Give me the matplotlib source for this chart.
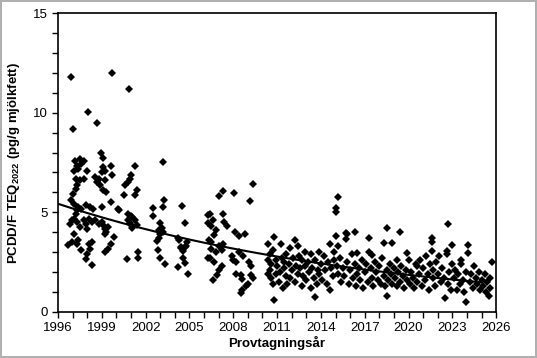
import matplotlib
matplotlib.use("Agg")
import matplotlib.pyplot as plt
import numpy as np
from matplotlib.ticker import MultipleLocator

plt.rcParams['font.family'] = ['Liberation Sans', 'DejaVu Sans']
plt.rcParams['mathtext.fontset'] = 'custom'
plt.rcParams['mathtext.it'] = 'Liberation Sans:italic:bold'
plt.rcParams['mathtext.rm'] = 'Liberation Sans:bold'

# 1996-2000
yr_a = [1996.87, 1997.05, 1998.03, 1998.7, 1999.7,
        1998.97, 1999.06, 1997.19, 1997.5, 1997.8, 1997.3, 1997.6, 1997.07, 1997.4, 1997.99,
        1999.1, 1999.6, 1999.0, 1999.2, 1997.2, 1997.5, 1997.76, 1998.56, 1998.8, 1999.7,
        1997.3, 1998.7, 1998.9, 1999.2, 1997.2, 1999.1, 1999.3, 1999.6, 1997.4, 1997.3,
        1997.2, 1997.6, 1997.07, 1997.3, 1997.9, 1998.2, 1998.4, 1999.0, 1996.8, 1996.96,
        1997.8, 1997.9, 1998.1, 1998.3, 1998.5, 1998.8, 1999.0, 1999.1, 1999.2, 1999.4,
        1998.0, 1997.5, 1997.07, 1999.8, 1999.2, 1999.3, 1996.7, 1996.96, 1997.4, 1997.3,
        1998.1, 1998.3, 1997.6, 1997.99, 1997.9, 1998.2, 1999.2, 1999.4, 1999.6, 1998.3,
        1996.9, 1997.0, 1997.1]
teq_a = [11.8, 9.2, 10.05, 9.5, 12.0,
         7.98, 7.72, 7.6, 7.67, 7.6, 7.35, 7.43, 7.1, 7.18, 7.1,
         7.27, 7.32, 7.0, 7.1, 6.68, 6.6, 6.68, 6.77, 6.68, 6.85,
         6.35, 6.5, 6.35, 6.6, 6.18, 6.1, 6.0, 5.5, 5.27, 5.1,
         4.93, 5.18, 4.68, 4.52, 5.35, 5.27, 5.18, 5.27, 4.43, 4.6,
         4.6, 4.43, 4.68, 4.52, 4.6, 4.43, 4.52, 4.35, 4.18, 4.27,
         4.18, 4.27, 3.93, 3.77, 3.93, 4.02, 3.35, 3.5, 3.6, 3.43,
         3.43, 3.5, 3.1, 2.93, 2.68, 3.18, 3.0, 3.18, 3.43, 2.35,
         5.6, 5.9, 5.4]

# 2000-2001
yr_c = [2000.86, 2000.5, 2000.6, 2000.96, 2000.1, 2000.15, 2000.8, 2000.8, 2000.7,
        2001.0, 2001.3, 2001.4, 2001.3, 2000.8, 2001.0, 2001.1, 2001.0, 2001.1, 2001.3,
        2001.4, 2001.5, 2001.5, 2000.9]
teq_c = [11.2, 5.85, 6.35, 6.68, 5.18, 5.1, 4.93, 4.6, 2.68,
         6.85, 7.35, 6.1, 5.85, 6.5, 4.8, 4.75, 4.35, 4.2, 4.6,
         4.35, 2.7, 3.0, 4.45]

# 2002-2003
yr_d = [2003.2, 2003.25, 2003.2, 2002.5, 2002.5, 2003.0, 2003.1, 2003.0, 2002.9,
        2002.75, 2002.85, 2003.0, 2003.3, 2003.2, 2002.9]
teq_d = [7.55, 5.6, 5.25, 5.2, 4.8, 4.45, 4.2, 3.9, 3.7,
         3.55, 3.1, 2.7, 2.4, 4.0, 4.1]

# 2004
yr_e = [2004.5, 2004.7, 2004.25, 2004.3, 2004.4, 2004.45, 2004.55, 2004.7, 2004.75,
        2004.55, 2004.7, 2004.9, 2004.2, 2004.8]
teq_e = [5.3, 4.45, 3.7, 3.6, 3.25, 3.2, 3.05, 3.25, 3.3,
         2.7, 2.45, 1.9, 2.25, 3.5]

# 2006-2009
yr_f = [2009.33, 2007.3, 2007.0, 2008.05, 2009.15,
        2006.4, 2006.6, 2006.5, 2006.8, 2006.65, 2007.3, 2007.35, 2007.6,
        2008.1, 2008.4, 2008.8, 2006.5, 2006.45, 2006.8, 2007.0, 2007.2, 2007.3,
        2006.4, 2006.7, 2007.9, 2008.0, 2008.2, 2008.4, 2008.7, 2009.1, 2009.2,
        2007.0, 2007.2, 2006.9, 2006.6, 2008.2, 2008.6, 2008.5, 2009.2, 2009.35,
        2008.5, 2008.6, 2008.9, 2009.0, 2006.3, 2006.3, 2006.35, 2006.3]
teq_f = [6.4, 6.05, 5.8, 5.95, 5.55,
         4.9, 4.6, 4.3, 4.1, 3.85, 4.9, 4.5, 4.3,
         4.0, 3.8, 3.9, 3.5, 3.15, 3.0, 3.3, 3.1, 3.4,
         2.7, 2.5, 2.8, 2.6, 2.5, 3.0, 2.8, 2.5, 2.3,
         2.1, 2.3, 1.85, 1.6, 1.9, 1.65, 1.85, 1.85, 1.7,
         0.95, 1.1, 1.3, 1.4, 4.85, 4.45, 3.6, 2.7]

# 2010-2017
yr_g = [2010.4, 2010.5, 2010.6, 2010.5, 2010.6, 2010.7, 2010.8, 2010.8, 2010.9, 2010.9, 2010.4, 2010.35, 2010.7,
        2011.0, 2011.1, 2011.2, 2011.3, 2011.35, 2011.4, 2011.5, 2011.6, 2011.6, 2011.7, 2011.8, 2011.9, 2011.9, 2011.5,
        2012.0, 2012.1, 2012.2, 2012.2, 2012.3, 2012.4, 2012.4, 2012.5, 2012.6, 2012.7, 2012.7, 2012.8, 2012.9, 2012.9,
        2013.0, 2013.1, 2013.2, 2013.3, 2013.3, 2013.4, 2013.5, 2013.6, 2013.6, 2013.7, 2013.8, 2013.9, 2013.9,
        2014.0, 2014.1, 2014.2, 2014.3, 2014.4, 2014.5, 2014.6, 2014.6, 2014.7, 2014.8, 2014.9, 2014.9, 2015.0, 2015.0,
        2015.0, 2015.2, 2015.2,
        2015.1, 2015.2, 2015.3, 2015.4, 2015.5, 2015.6, 2015.7, 2015.7, 2015.8, 2015.8, 2015.9, 2016.0, 2016.1, 2016.2,
        2016.3, 2016.3,
        2016.4, 2016.5, 2016.5, 2016.6, 2016.7, 2016.8, 2016.9, 2017.0, 2017.1, 2017.2, 2017.3, 2017.3, 2017.4]
teq_g = [3.4, 2.9, 2.4, 2.1, 1.7, 1.4, 0.6, 3.77, 2.6, 1.9, 2.6, 1.9, 3.1,
         2.3, 1.5, 2.0, 3.4, 2.7, 1.2, 2.2, 1.8, 2.9, 1.4, 2.4, 3.2, 1.7, 2.5,
         2.1, 2.7, 3.6, 1.5, 2.3, 3.3, 1.9, 2.8, 2.2, 1.3, 2.6, 1.8, 3.0, 2.3,
         1.6, 2.5, 2.0, 2.9, 1.2, 2.2, 1.7, 0.75, 2.6, 1.4, 2.1, 3.0, 1.9,
         2.4, 1.6, 2.8, 2.1, 1.4, 2.5, 3.4, 1.1, 2.2, 1.8, 2.6, 3.0, 5.2, 5.0,
         3.8, 5.75, 3.3,
         2.3, 1.9, 2.7, 1.5, 2.2, 1.8, 3.95, 3.65, 2.5, 3.9, 1.4, 2.1, 2.9, 1.7,
         4.0, 2.4,
         1.3, 2.95, 1.9, 2.2, 1.6, 2.6, 1.2, 2.0, 2.4, 1.5, 3.7, 3.0, 2.2]

# 2017-2025
yr_h = [2017.5, 2017.5, 2017.6, 2017.7, 2017.8, 2017.9, 2018.0, 2018.1, 2018.2, 2018.3, 2018.3, 2018.4, 2018.5,
        2018.5, 2018.5,
        2018.6, 2018.7, 2018.8, 2018.9, 2018.9, 2019.0, 2019.1, 2019.2, 2019.2, 2019.3, 2019.4, 2019.4, 2019.5,
        2019.6, 2019.7, 2019.8, 2019.9, 2019.9, 2020.0, 2020.1, 2020.2, 2020.3, 2020.4, 2020.5, 2020.6, 2020.6,
        2020.7, 2020.8, 2020.9, 2021.0, 2021.1, 2021.2, 2021.3, 2021.4, 2021.5, 2021.6, 2021.6, 2021.6, 2021.7,
        2021.7,
        2021.8, 2021.9, 2022.0, 2022.1, 2022.2, 2022.3, 2022.4, 2022.5, 2022.6, 2022.6, 2022.7, 2022.7, 2022.8,
        2022.9, 2023.0, 2023.0, 2023.1, 2023.2, 2023.3, 2023.4, 2023.5, 2023.6, 2023.6, 2023.7, 2023.8, 2023.9,
        2023.9,
        2024.1, 2024.1, 2024.2, 2024.3, 2024.4, 2024.5, 2024.6, 2024.7, 2024.8, 2024.9, 2025.0, 2025.1, 2025.2,
        2025.3, 2025.4, 2025.5, 2025.6, 2025.7, 2025.6]
teq_h = [2.85, 1.7, 1.3, 2.5, 2.0, 1.6, 2.3, 1.4, 2.7, 3.45, 1.8, 1.3, 4.2,
         0.8, 2.1,
         1.6, 2.4, 1.9, 3.45, 1.4, 2.2, 1.7, 2.6, 1.3, 2.0, 4.0, 1.5, 2.3,
         1.8, 1.2, 2.1, 2.95, 1.6, 2.6, 1.4, 2.0, 1.7, 1.2, 2.4, 2.3, 1.5,
         1.9, 2.6, 1.3, 2.2, 1.6, 2.8, 1.9, 1.1, 2.4, 3.7, 3.5, 3.05, 1.7,
         2.1,
         1.3, 2.5, 1.9, 2.8, 1.5, 2.2, 1.7, 0.7, 2.9, 3.05, 4.4, 1.4, 2.0,
         1.1, 3.35, 2.4, 1.7, 2.1, 1.1, 1.9, 1.4, 2.6, 2.4, 1.6, 1.0, 0.5,
         2.0,
         3.35, 2.95, 1.5, 1.9, 1.2, 2.3, 1.7, 1.4, 2.0, 1.1, 1.6, 1.3, 1.9,
         1.0, 1.5, 0.8, 1.2, 2.5, 1.7]

x_ticks = list(range(1996, 2027, 3))

years = np.array(yr_a + yr_c + yr_d + yr_e + yr_f + yr_g + yr_h)
teq = np.array(teq_a + teq_c + teq_d + teq_e + teq_f + teq_g + teq_h)

# exponential trend line (least squares on log values)
k, c = np.polyfit(years - 1996, np.log(teq), 1)
xt = np.linspace(1996, 2025, 200)
yt = np.exp(c + k * (xt - 1996))

fig = plt.figure(figsize=(5.37, 3.58), dpi=100)
fig.patch.set_edgecolor('#b0b0b0')
fig.patch.set_linewidth(1.5)
ax = fig.add_axes([0.108, 0.1285, 0.816, 0.835])

ax.plot(years, teq, 'D', color='black', ms=4, mew=0)
ax.plot(xt, yt, color='black', lw=1.5)

ax.set_xlim(1996, 2026)
ax.set_ylim(0, 15)
ax.set_xticks(x_ticks)
ax.xaxis.set_minor_locator(MultipleLocator(1))
ax.yaxis.set_major_locator(MultipleLocator(5))
ax.yaxis.set_minor_locator(MultipleLocator(1))
ax.tick_params(which='both', direction='out', length=4, width=1, labelsize=9.5, top=False, right=False)
for s in ax.spines.values():
    s.set_linewidth(1.2)

ax.set_xlabel('Provtagningsår', fontsize=9.5, fontweight='bold', labelpad=1)
ax.set_ylabel(r'PCDD/F TEQ$_{\mathit{2022}}$ (pg/g mjölkfett)', fontsize=9.5, fontweight='bold', labelpad=8)

fig.savefig('out.png', dpi=100)
